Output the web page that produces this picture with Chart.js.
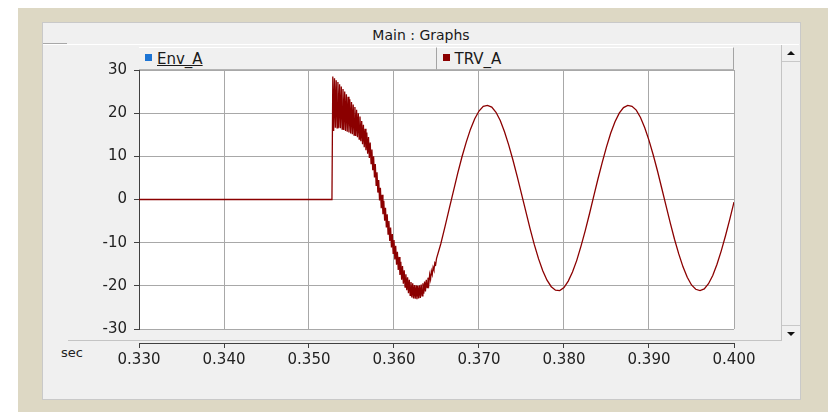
<!DOCTYPE html>
<html lang="en">
<head>
  <meta charset="UTF-8">
  <title>Main : Graphs</title>
  <script src="https://cdn.jsdelivr.net/npm/chart.js"></script>
  <style>
    body { margin: 0; background: #fff; font-family: "DejaVu Sans", sans-serif; }
    #wrap { position: relative; width: 828px; height: 415px; overflow: hidden; }
    .abs { position: absolute; }
    #outer { left: 18px; top: 8px; width: 810px; height: 404px; background: #ddd8c4; }
    #panel { left: 42px; top: 22px; width: 757px; height: 376px; background: #f0f0f0; border: 1px solid #c9c9c9; }
    #title { left: 42px; top: 27px; width: 758px; text-align: center; font-size: 14px; color: #1a1a1a; }
    #titleLine { left: 43px; top: 44px; width: 756px; height: 0; border-top: 1px solid #fff; }
    #titleLineL { left: 43px; top: 43px; width: 24px; height: 0; border-top: 1px solid #a8a8a8; }
    #sep { left: 68px; top: 340px; width: 713px; height: 0; border-top: 1px solid #c4c4c4; }
    #legend { left: 139px; top: 47px; width: 595px; height: 23px; display: flex; }
    .cell { flex: 1; box-sizing: border-box; height: 23px; background: #f0f0f0;
            border-top: 1px solid #fff; border-right: 1px solid #a4a4a4; border-bottom: 1px solid #b4b4b4;
            font-size: 15px; color: #1a1a1a; line-height: 23px; padding-left: 6px; }
    .cell .sw { display: inline-block; width: 7px; height: 7px; margin-right: 5px; vertical-align: 3px; }
    .cell.first span.lbl { text-decoration: underline; }
    #scroll { left: 781px; top: 45px; width: 18px; height: 296px; border-left: 1px solid #c4c4c4; background: #f0f0f0; }
    .btn { position: absolute; left: 0; width: 18px; height: 15px; background: #f0f0f0; }
    #up { top: 1px; border-bottom: 1px solid #c8c8c8; }
    #down { bottom: 0; border-top: 1px solid #c8c8c8; }
    .tri { position: absolute; left: 5px; width: 0; height: 0; border-left: 4px solid transparent; border-right: 4px solid transparent; }
    #up .tri { top: 5px; border-bottom: 4px solid #111; }
    #down .tri { top: 6px; border-top: 4px solid #111; }
    #sec { left: 61px; top: 345px; font-size: 13px; color: #222; }
    canvas { position: absolute; left: 0; top: 0; }
  </style>
</head>
<body>
<div id="wrap">
  <div id="outer" class="abs"></div>
  <div id="panel" class="abs"></div>
  <div id="title" class="abs">Main : Graphs</div>
  <div id="titleLine" class="abs"></div>
  <div id="titleLineL" class="abs"></div>
  <div id="sep" class="abs"></div>
  <div id="legend" class="abs"></div>
  <div id="scroll" class="abs">
    <div id="up" class="btn"><div class="tri"></div></div>
    <div id="down" class="btn"><div class="tri"></div></div>
  </div>
  <div id="sec" class="abs">sec</div>
  <canvas id="graph" width="828" height="415"></canvas>
</div>

<script>
  // series
  const seriesNames = ['Env_A', 'TRV_A'];
  const seriesColors = ['#1c74d4', '#8b0000'];

  // TRV_A: flat before the opening
  const zeroTime = [0.330, 0.3527];
  const zeroValue = [0, 0];

  // TRV_A: high-frequency ringing, one value every 0.1 ms
  const rippleStart = 0.3528;
  const rippleStep = 0.0001;
  const rippleValue = [
    28.5, 15.9, 28.1, 16.6, 27.6, 16.6, 27.2, 16.6, 26.7, 16.5,
    26.2, 16.3, 25.6, 16.1, 25.0, 15.9, 24.4, 15.7, 23.8, 15.5,
    23.2, 15.3, 22.6, 15.1, 22.0, 14.9, 21.4, 14.7, 20.8, 14.4,
    20.0, 14.0, 19.2, 13.5, 18.2, 12.8, 17.3, 12.1, 16.4, 11.4,
    15.5, 10.6, 14.5, 9.6, 13.2, 8.3, 11.6, 6.8, 10.0, 5.1,
    8.2, 3.3, 6.3, 1.6, 4.5, -0.2, 2.7, -2.0, 1.1, -3.4,
    -0.3, -4.9, -1.9, -6.5, -3.4, -8.0, -5.0, -9.6, -6.5, -11.1,
    -8.0, -12.5, -9.4, -13.9, -10.7, -15.1, -12.1, -16.3, -13.3, -17.5,
    -14.4, -18.6, -15.4, -19.5, -16.4, -20.3, -17.3, -21.0, -18.0, -21.7,
    -18.6, -22.2, -19.1, -22.7, -19.4, -22.9, -19.8, -23.0, -19.9, -23.1,
    -20.0, -22.9, -19.9, -22.8, -19.7, -22.3, -19.4, -21.8, -19.0, -21.3,
    -18.6, -20.4, -18.1, -19.5, -17.4, -18.5, -16.6, -17.4, -15.7, -16.3,
    -14.7, -15.1, -13.7
  ];

  // TRV_A: power-frequency part, one value every 0.5 ms
  const waveStart = 0.3655;
  const waveStep = 0.0005;
  const waveValue = [
    -10.3, -6.3, -2.1, 2.0, 6.1, 9.9, 13.3, 16.3, 18.7, 20.5,
    21.6, 21.8, 21.4, 20.2, 18.3, 15.7, 12.6, 9.1, 5.3, 1.3,
    -2.7, -6.7, -10.4, -13.7, -16.5, -18.7, -20.2, -21.0, -21.1, -20.4,
    -18.9, -16.8, -14.1, -10.8, -7.2, -3.3, 0.8, 4.8, 8.6, 12.2,
    15.4, 18.0, 20.0, 21.3, 21.8, 21.6, 20.7, 19.0, 16.6, 13.7,
    10.3, 6.6, 2.6, -1.4, -5.4, -9.2, -12.6, -15.6, -18.0, -19.8,
    -20.8, -21.1, -20.7, -19.5, -17.6, -15.0, -11.9, -8.4, -4.6, -0.6
  ];

  // axes
  const xTickValues = [0.33, 0.34, 0.35, 0.36, 0.37, 0.38, 0.39, 0.40];
  const xTickLabels = ['0.330', '0.340', '0.350', '0.360', '0.370', '0.380', '0.390', '0.400'];
  const yTickValues = [-30, -20, -10, 0, 10, 20, 30];
  const yTickLabels = ['-30', '-20', '-10', '0', '10', '20', '30'];

  // legend header cells
  const legend = document.getElementById('legend');
  seriesNames.forEach((name, i) => {
    const c = document.createElement('div');
    c.className = 'cell' + (i === 0 ? ' first' : '');
    c.innerHTML = '<span class="sw" style="background:' + seriesColors[i] + '"></span><span class="lbl">' + name + '</span>';
    legend.appendChild(c);
  });

  const trvPoints = [];
  zeroTime.forEach((t, i) => trvPoints.push({ x: t, y: zeroValue[i] }));
  rippleValue.forEach((v, i) => trvPoints.push({ x: +(rippleStart + i * rippleStep).toFixed(4), y: v }));
  waveValue.forEach((v, i) => trvPoints.push({ x: +(waveStart + i * waveStep).toFixed(4), y: v }));

  const plotBg = {
    id: 'plotBg',
    beforeDraw(chart) {
      const { ctx, chartArea: a } = chart;
      ctx.save();
      ctx.fillStyle = '#ffffff';
      ctx.fillRect(a.left, a.top, a.right - a.left, a.bottom - a.top);
      ctx.restore();
    }
  };

  const tickFont = { family: 'DejaVu Sans', size: 15 };
  const gridColor = '#a8a8a8';
  const axisColor = '#404040';

  new Chart(document.getElementById('graph').getContext('2d'), {
    type: 'line',
    data: {
      datasets: [
        { label: seriesNames[0], data: [], borderColor: seriesColors[0], borderWidth: 1.5, pointRadius: 0 },
        { label: seriesNames[1], data: trvPoints, borderColor: seriesColors[1], borderWidth: 1.3, pointRadius: 0, tension: 0 }
      ]
    },
    options: {
      responsive: false,
      animation: false,
      layout: { padding: { left: 89, right: 94, top: 70, bottom: 42 } },
      plugins: { legend: { display: false }, tooltip: { enabled: false } },
      scales: {
        x: {
          type: 'linear', position: 'bottom', weight: 0, min: 0.33, max: 0.40,
          afterBuildTicks: s => { s.ticks = xTickValues.map(v => ({ value: v })); },
          ticks: { display: false },
          grid: { color: gridColor, drawTicks: false },
          border: { display: false },
          afterFit: s => { s.height = 14; }
        },
        x2: {
          type: 'linear', position: 'bottom', weight: 1, min: 0.33, max: 0.40,
          afterBuildTicks: s => { s.ticks = xTickValues.map(v => ({ value: v })); },
          ticks: { callback: (v, i) => xTickLabels[i], font: tickFont, color: '#222', padding: 3, maxRotation: 0, autoSkip: false },
          grid: { drawOnChartArea: false, tickLength: 5, tickColor: axisColor },
          border: { color: axisColor },
          afterFit: s => { s.height = 30; }
        },
        y: {
          min: -30, max: 30,
          afterBuildTicks: s => { s.ticks = yTickValues.map(v => ({ value: v })); },
          ticks: { callback: (v, i) => yTickLabels[i], font: tickFont, color: '#222', padding: 7 },
          grid: { color: gridColor, tickColor: axisColor, tickLength: 5 },
          border: { color: axisColor },
          afterFit: s => { s.width = 50; }
        }
      }
    },
    plugins: [plotBg]
  });
</script>
</body>
</html>
